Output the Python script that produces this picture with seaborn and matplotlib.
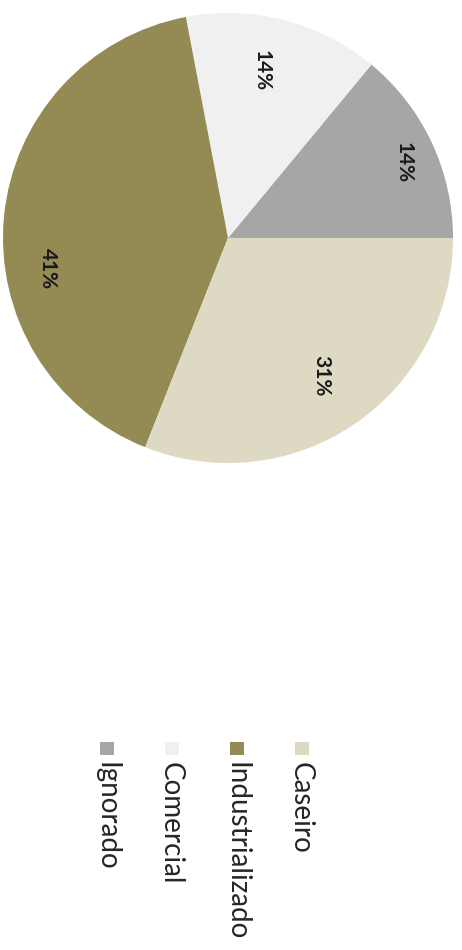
import matplotlib
matplotlib.use("Agg")
import matplotlib.pyplot as plt
from matplotlib.patches import Rectangle
import numpy as np
import seaborn as sns

# Food origin shares (percent)
categories = ["Ignorado", "Comercial", "Industrializado", "Caseiro"]
shares = [14, 14, 41, 31]
colors = ["#a6a6a6", "#f0f0f0", "#948a54", "#ddd9c3"]

# Label placement per wedge: angular shift from the wedge middle (deg) and radius
label_shift = [-2, 3, 15, 0]
label_radius = [0.85, 0.76, 0.81, 0.74]

sns.set_theme(style="white")
plt.rcParams["font.family"] = ["Lato", "DejaVu Sans"]

W, H = 462, 950
fig = plt.figure(figsize=(W / 100, H / 100), dpi=100)
fig.patch.set_facecolor("white")

# Pie axes: centre (228, 238) px, radius 225 px
cx, cy, r = 228, 238, 225
ax = fig.add_axes([(cx - r) / W, (H - cy - r) / H, 2 * r / W, 2 * r / H])
wedges, _ = ax.pie(
    shares,
    colors=colors,
    startangle=0,
    counterclock=True,
    wedgeprops=dict(linewidth=0),
)
for w, val, shift, rad in zip(wedges, shares, label_shift, label_radius):
    mid = np.deg2rad((w.theta1 + w.theta2) / 2 + shift)
    ax.text(rad * np.cos(mid), rad * np.sin(mid), f"{val}%",
            rotation=-90, rotation_mode="anchor", ha="center", va="center",
            fontsize=15, fontweight="bold", color="#1a1a1a")
ax.set_xlim(-1, 1)
ax.set_ylim(-1, 1)
ax.set_aspect("equal")
ax.axis("off")

# Rotated legend: one column per category
x0, step = 106, 65
sq = 14
for i, (name, col) in enumerate(zip(categories, colors)):
    x = x0 + i * step
    fig.patches.append(
        Rectangle(((x - sq / 2 + 1) / W, (H - 755) / H), sq / W, (sq - 1) / H,
                  transform=fig.transFigure, facecolor=col, edgecolor="none")
    )
    fig.text(x / W, (H - 762) / H, name, rotation=-90, ha="center", va="top",
             fontsize=20, color="#262626")

fig.savefig("out.png", dpi=100, facecolor="white")
